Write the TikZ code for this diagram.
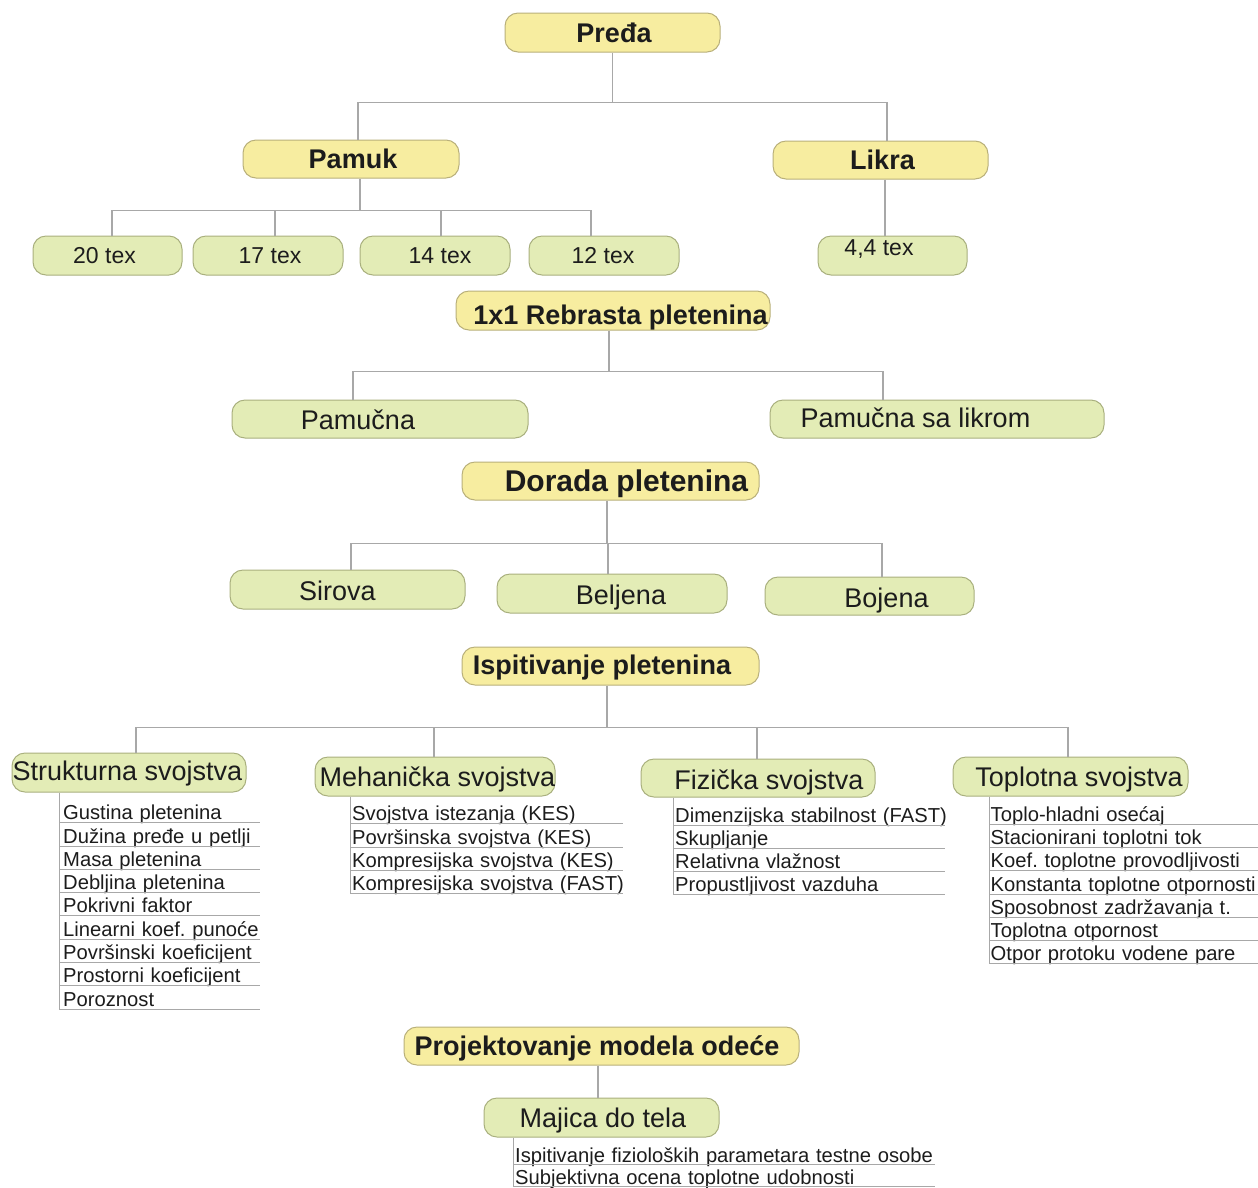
\documentclass[tikz,border=0pt]{standalone}
\usepackage{fontspec}
\setmainfont{Liberation Sans}
\definecolor{yfill}{HTML}{F7EDA0}
\definecolor{ybord}{HTML}{B9B07A}
\definecolor{gfill}{HTML}{E3ECB6}
\definecolor{gbord}{HTML}{A9B07E}
\definecolor{linegray}{HTML}{A8A8A8}
\definecolor{ink}{HTML}{1C1C1C}
\begin{document}
\frenchspacing
\begin{tikzpicture}[x=1pt,y=-1pt,
  conn/.style={draw=linegray, line width=1.1pt},
  uline/.style={draw=linegray, line width=1pt},
  yb/.style={draw=ybord, fill=yfill, rounded corners=13pt, line width=1pt, inner sep=0pt},
  gb/.style={draw=gbord, fill=gfill, rounded corners=13pt, line width=1pt, inner sep=0pt},
  sz/.style 2 args={minimum width=#1pt, minimum height=#2pt},
  bt/.style={font=\fontsize{27}{30}\selectfont\bfseries, text=ink, text height=19.3pt, text depth=0pt, inner sep=0pt},
  btl/.style={font=\fontsize{30}{33}\selectfont\bfseries, text=ink, text height=21.5pt, text depth=0pt, inner sep=0pt},
  mt/.style={font=\fontsize{27}{30}\selectfont, text=ink, text height=19.3pt, text depth=0pt, inner sep=0pt},
  tt/.style={font=\fontsize{23}{26}\selectfont, text=ink, text height=16.5pt, text depth=0pt, inner sep=0pt},
  li/.style={anchor=north west, inner xsep=2pt, inner ysep=0pt, minimum height=23.3pt,
    font=\fontsize{20.2}{23}\selectfont, text=ink, text height=17.8pt, text depth=0pt, align=left},
]
\useasboundingbox (0,0) rectangle (1258,1187);

% ---- yarn level
\node[yb, sz={215}{39}, label={[bt, xshift=1.5pt]center:Pređa}] (preda) at (612.5,32.5) {};
\node[yb, sz={216}{38}, label={[bt, xshift=2pt]center:Pamuk}] (pamuk) at (351,159) {};
\node[yb, sz={215}{38}, label={[bt, xshift=2pt]center:Likra}] (likra) at (880.5,160) {};

\node[gb, sz={149}{39}, label={[tt, xshift=-3pt]center:{20 tex}}] (t20) at (107.5,255.5) {};
\node[gb, sz={150}{39}, label={[tt, xshift=2pt]center:{17 tex}}] (t17) at (268,255.5) {};
\node[gb, sz={150}{39}, label={[tt, xshift=5pt]center:{14 tex}}] (t14) at (435,255.5) {};
\node[gb, sz={150}{39}, label={[tt, xshift=-1pt]center:{12 tex}}] (t12) at (604,255.5) {};
\node[gb, sz={149}{39}, label={[tt, xshift=-13.5pt, yshift=8pt]center:{4,4 tex}}] (t44) at (892.5,255.5) {};

% ---- knitted fabric
\node[yb, sz={314}{39}, label={[bt, xshift=7.5pt, yshift=-4pt]center:{1x1 Rebrasta pletenina}}] (reb) at (613,310.5) {};
\node[gb, sz={296}{38}, label={[mt, xshift=-22pt, yshift=-1pt]center:Pamučna}] (pam) at (380,419) {};
\node[gb, sz={334}{38}, label={[mt, xshift=-21.5pt, yshift=1pt]center:{Pamučna sa likrom}}] (paml) at (937,419) {};

% ---- finishing
\node[yb, sz={297}{38}, label={[btl, xshift=16pt]center:{Dorada pletenina}}] (dorada) at (610.5,481) {};
\node[gb, sz={235}{39}, label={[mt, xshift=-10pt, yshift=-1.5pt]center:Sirova}] (sir) at (347.5,589.5) {};
\node[gb, sz={230}{39}, label={[mt, xshift=9pt, yshift=-1.5pt]center:Beljena}] (bel) at (612,593.5) {};
\node[gb, sz={209}{38}, label={[mt, xshift=17pt, yshift=-2pt]center:Bojena}] (boj) at (869.5,596) {};

% ---- testing
\node[yb, sz={297}{38}, label={[bt, xshift=-8.5pt, yshift=1pt]center:{Ispitivanje pletenina}}] (isp) at (610.5,666) {};
\node[gb, sz={234}{39}, label={[mt, xshift=-1.5pt, yshift=1.5pt]center:{Strukturna svojstva}}] (strk) at (129,772.5) {};
\node[gb, sz={240}{39}, label={[mt, xshift=2.5pt]center:{Mehanička svojstva}}] (meh) at (435,776.5) {};
\node[gb, sz={234}{38}, label={[mt, xshift=11pt, yshift=-2pt]center:{Fizička svojstva}}] (fiz) at (758,778) {};
\node[gb, sz={235}{39}, label={[mt, xshift=8.5pt]center:{Toplotna svojstva}}] (top) at (1070.5,776.5) {};

% ---- garment design
\node[yb, sz={395}{38}, label={[bt, xshift=-4.5pt]center:{Projektovanje modela odeće}}] (proj) at (601.5,1046) {};
\node[gb, sz={235}{39}, label={[mt, xshift=1.5pt]center:{Majica do tela}}] (maj) at (601.5,1117.5) {};

% ---- tree connectors
\draw[conn] (preda.south) -- ++(0,50) coordinate (j1);
\draw[conn] ([xshift=7pt]pamuk.north) |- (j1) -| ([xshift=6.5pt]likra.north);

\draw[conn] ([xshift=9pt]pamuk.south) -- ++(0,32) coordinate (j2);
\draw[conn] ([xshift=4.5pt]t20.north) |- (j2) -| ([xshift=-13pt]t12.north);
\draw[conn] ([xshift=7pt]t17.north) |- (j2);
\draw[conn] ([xshift=6pt]t14.north) |- (j2);
\draw[conn] ([xshift=4.5pt]likra.south) -- ([xshift=-7.5pt]t44.north);

\draw[conn] ([xshift=-4pt]reb.south) -- ++(0,41) coordinate (j3);
\draw[conn] ([xshift=-27pt]pam.north) |- (j3) -| ([xshift=-54pt]paml.north);

\draw[conn] ([xshift=-3.5pt]dorada.south) -- ++(0,43) coordinate (j4);
\draw[conn] ([xshift=3.5pt]sir.north) |- (j4) -| ([xshift=12.5pt]boj.north);
\draw[conn] ([xshift=-4pt]bel.north) |- (j4);

\draw[conn] ([xshift=-3.5pt]isp.south) -- ++(0,42) coordinate (j5);
\draw[conn] ([xshift=7pt]strk.north) |- (j5) -| ([xshift=-2.5pt]top.north);
\draw[conn] ([xshift=-1pt]meh.north) |- (j5);
\draw[conn] ([xshift=-1pt]fiz.north) |- (j5);

\draw[conn] ([xshift=-3.5pt]proj.south) -- ([xshift=-3.5pt]maj.north);

% ---- property lists
\foreach \t [count=\i] in {Gustina pletenina, Dužina pređe u petlji, Masa pletenina,
    Debljina pletenina, Pokrivni faktor, Linearni koef. punoće, Površinski koeficijent,
    Prostorni koeficijent, Poroznost} {
  \node[li, inner xsep=4pt, text width=193pt] (s\i) at (59,{799+(\i-1)*23.3}) {\mbox{\t}};
  \draw[uline] (s\i.south west) -- (s\i.south east);
}
\draw[uline] (strk.south -| s1.west) -- (s9.south west);

\foreach \t [count=\i] in {Svojstva istezanja (KES), Površinska svojstva (KES),
    Kompresijska svojstva (KES), Kompresijska svojstva (FAST)} {
  \node[li, text width=269pt] (m\i) at (350,{800+(\i-1)*23.3}) {\mbox{\t}};
  \draw[uline] (m\i.south west) -- (m\i.south east);
}
\draw[uline] (meh.south -| m1.west) -- (m4.south west);

\foreach \t [count=\i] in {Dimenzijska stabilnost (FAST), Skupljanje,
    Relativna vlažnost, Propustljivost vazduha} {
  \node[li, text width=268pt] (f\i) at (673,{802+(\i-1)*23}) {\mbox{\t}};
  \draw[uline] (f\i.south west) -- (f\i.south east);
}
\draw[uline] (fiz.south -| f1.west) -- (f4.south west);

\foreach \t [count=\i] in {Toplo-hladni osećaj, Stacionirani toplotni tok,
    Koef. toplotne provodljivosti, Konstanta toplotne otpornosti,
    Sposobnost zadržavanja t., Toplotna otpornost, Otpor protoku vodene pare} {
  \node[li, inner xsep=1.5pt, text width=266pt] (h\i) at (989,{801+(\i-1)*23.1}) {\mbox{\t}};
  \draw[uline] (h\i.south west) -- (h\i.south east);
}
\draw[uline] (top.south -| h1.west) -- (h7.south west);

\foreach \t [count=\i] in {Ispitivanje fizioloških parametara testne osobe,
    Subjektivna ocena toplotne udobnosti} {
  \node[li, text width=418pt, minimum height=22pt, text height=17pt] (p\i) at (513,{1142.5+(\i-1)*22}) {\mbox{\t}};
  \draw[uline] (p\i.south west) -- (p\i.south east);
}
\draw[uline] (maj.south -| p1.west) -- (p2.south west);
\end{tikzpicture}
\end{document}
